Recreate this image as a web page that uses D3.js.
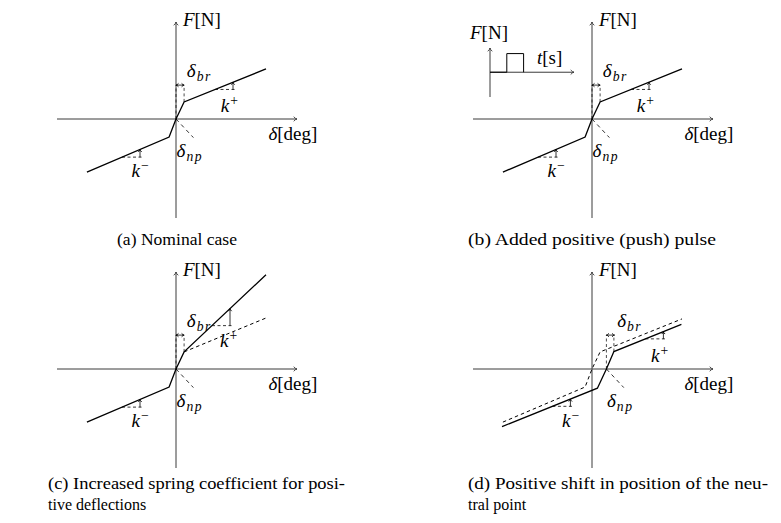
<!DOCTYPE html>
<html>
<head>
<meta charset="utf-8">
<script src="https://cdn.jsdelivr.net/npm/d3@7"></script>
<style>
  body { margin: 0; background: #fff; }
</style>
</head>
<body>
<div id="chart"></div>
<script>
// Force / deflection characteristic, in axis units (x = deflection, y = force)
const nominalCurve = [[-2.97, -1.77], [-0.23, -0.6], [0, 0], [0.27, 0.57], [3, 1.67]];
const stiffCurve = [[-2.97, -1.77], [-0.23, -0.6], [0, 0], [0.27, 0.57], [3, 3.14]];
const nominalUpper = [[0.27, 0.57], [3, 1.7]];
const shiftedCurve = [[-3, -1.92], [0.18, -0.64], [0.48, 0], [0.73, 0.58], [2.98, 1.49]];

// neutral point per panel (a..d)
const neutralPoint = [0, 0, 0, 0.48];
const breakoutWidth = 0.27;

// pulse inset of panel (b): time, force
const pulseSignal = [[0, 0], [1, 0], [1, 1], [2, 1], [2, 0]];

const captions = [
	["(a) Nominal case"],
	["(b) Added positive (push) pulse"],
	["(c) Increased spring coefficient for posi-", "tive deflections"],
	["(d) Positive shift in position of the neu-", "tral point"]
];

const width = 781;
const height = 523;
const unit = 30;
const serif = '"Liberation Serif"';

const svg = d3.select('#chart')
	.append('svg')
	.attr('width', width)
	.attr('height', height)
	.style('font-family', serif);

// small arrow tip at (x2,y2) pointing away from (x1,y1)
function arrowTip(g, x1, y1, x2, y2, size, color) {
	const a = Math.atan2(y2 - y1, x2 - x1);
	const s = size || 4;
	const p1 = [x2 - s * Math.cos(a - 0.6), y2 - s * Math.sin(a - 0.6)];
	const p2 = [x2 - s * Math.cos(a + 0.6), y2 - s * Math.sin(a + 0.6)];
	const c = [x2 - s * 0.3 * Math.cos(a), y2 - s * 0.3 * Math.sin(a)];
	g.append('path')
		.attr('d', `M${p1[0]},${p1[1]} Q${c[0]},${c[1]} ${x2},${y2} Q${c[0]},${c[1]} ${p2[0]},${p2[1]}`)
		.attr('fill', 'none')
		.attr('stroke', color || '#000')
		.attr('stroke-width', 0.9);
}

function yAt(curve, x) {
	for (let i = 0; i < curve.length - 1; i++) {
		const [x0, y0] = curve[i];
		const [x1, y1] = curve[i + 1];
		if (x >= x0 && x <= x1) return y0 + (y1 - y0) * (x - x0) / (x1 - x0);
	}
	return curve[curve.length - 1][1];
}

// label made of parts: {t, it, sub, sup}
function mathLabel(g, x, y, parts, size) {
	const fs = size || 19;
	const txt = g.append('text')
		.attr('x', x)
		.attr('y', y)
		.style('font-family', serif)
		.attr('font-size', fs);
	let shift = 0;
	parts.forEach((p) => {
		const ts = txt.append('tspan').text(p.t);
		if (p.it) ts.attr('font-style', 'italic');
		let target = 0;
		if (p.sub) { target = 4; ts.attr('font-size', fs * 0.72).attr('dx', 1).attr('letter-spacing', 1.5); }
		if (p.sup) { target = -7; ts.attr('font-size', fs * 0.72).attr('dx', 1); }
		ts.attr('dy', target - shift);
		shift = target;
	});
	return txt;
}

function drawPanel(idx, ox, oy) {
	const s = neutralPoint[idx];
	const g = svg.append('g');

	const xScale = d3.scaleLinear()
		.domain([-119 / unit, 121 / unit])
		.range([ox - 119, ox + 121]);
	const yScale = d3.scaleLinear()
		.domain([-99 / unit, 97 / unit])
		.range([oy + 99, oy - 97]);

	const line = d3.line()
		.x((d) => xScale(d[0]))
		.y((d) => yScale(d[1]));

	// axes
	const axisColor = '#3a3a3a';
	g.append('line')
		.attr('x1', xScale.range()[0]).attr('x2', xScale.range()[1])
		.attr('y1', yScale(0)).attr('y2', yScale(0))
		.attr('stroke', axisColor).attr('stroke-width', 1);
	arrowTip(g, xScale.range()[0], yScale(0), xScale.range()[1], yScale(0), 4, axisColor);
	g.append('line')
		.attr('x1', xScale(0)).attr('x2', xScale(0))
		.attr('y1', yScale.range()[0]).attr('y2', yScale.range()[1])
		.attr('stroke', axisColor).attr('stroke-width', 1);
	arrowTip(g, xScale(0), yScale.range()[0], xScale(0), yScale.range()[1], 4, axisColor);

	mathLabel(g, xScale(0.23), yScale(3.1), [{t: 'F', it: true}, {t: '[N]'}]);
	mathLabel(g, xScale(3.08), yScale(-0.7), [{t: 'δ', it: true}, {t: '[deg]'}]);

	// characteristic curves
	let solid = nominalCurve;
	if (idx === 2) solid = stiffCurve;
	if (idx === 3) solid = shiftedCurve;

	if (idx === 2) {
		g.append('path').attr('d', line(nominalUpper))
			.attr('fill', 'none').attr('stroke', '#000').attr('stroke-width', 1)
			.attr('stroke-dasharray', '3.5,3');
	}
	if (idx === 3) {
		g.append('path').attr('d', line(nominalCurve))
			.attr('fill', 'none').attr('stroke', '#000').attr('stroke-width', 1)
			.attr('stroke-dasharray', '3.5,3');
	}
	g.append('path').attr('d', line(solid))
		.attr('fill', 'none').attr('stroke', '#000').attr('stroke-width', 1.3);

	// breakout marker
	const kink = solid[3];
	const brY = 1.13;
	g.append('path')
		.attr('d', line([[s, 0], [s, brY]]) + line([[kink[0], kink[1]], [kink[0], brY]]))
		.attr('fill', 'none').attr('stroke', '#000').attr('stroke-width', 0.7)
		.attr('stroke-dasharray', '3,2.5');
	g.append('line')
		.attr('x1', xScale(s)).attr('x2', xScale(s + breakoutWidth))
		.attr('y1', yScale(brY)).attr('y2', yScale(brY))
		.attr('stroke', '#000').attr('stroke-width', 0.8);
	arrowTip(g, xScale(s + breakoutWidth), yScale(brY), xScale(s), yScale(brY), 3);
	arrowTip(g, xScale(s), yScale(brY), xScale(s + breakoutWidth), yScale(brY), 3);

	// neutral point marker
	g.append('path')
		.attr('d', line([[s, 0], [s + 0.58, -0.62]]))
		.attr('fill', 'none').attr('stroke', '#000').attr('stroke-width', 0.8)
		.attr('stroke-dasharray', '4,3.5');

	// slope triangles
	const w = 0.6;
	const kPlusStart = idx === 2 ? 1.2 : s + 1.3;
	const triangles = [kPlusStart, s - 1.8];
	triangles.forEach((x0) => {
		const y0 = yAt(solid, x0);
		const y1 = yAt(solid, x0 + w);
		g.append('line')
			.attr('x1', xScale(x0)).attr('x2', xScale(x0 + w) + 2)
			.attr('y1', yScale(y0)).attr('y2', yScale(y0))
			.attr('stroke', '#000').attr('stroke-width', 0.8)
			.attr('stroke-dasharray', '3,2.5');
		g.append('line')
			.attr('x1', xScale(x0 + w)).attr('x2', xScale(x0 + w))
			.attr('y1', yScale(y0)).attr('y2', yScale(y1))
			.attr('stroke', '#000').attr('stroke-width', 0.8);
		arrowTip(g, xScale(x0 + w), yScale(y0), xScale(x0 + w), yScale(y1), 3);
	});

	// labels
	mathLabel(g, xScale(s + 0.36), yScale(1.39), [{t: 'δ', it: true}, {t: 'br', it: true, sub: true}]);
	mathLabel(g, xScale(s + 0.02), yScale(-1.25), [{t: 'δ', it: true}, {t: 'np', it: true, sub: true}]);
	if (idx === 2) {
		mathLabel(g, xScale(1.47), yScale(0.75), [{t: 'k', it: true}, {t: '+', sup: true}]);
	} else {
		mathLabel(g, xScale(s + 1.49), yScale(0.24), [{t: 'k', it: true}, {t: '+', sup: true}]);
	}
	mathLabel(g, xScale(s - 1.48), yScale(-1.92), [{t: 'k', it: true}, {t: '−', sup: true}]);

	return g;
}

const panelA = drawPanel(0, 176, 119);
const panelB = drawPanel(1, 592, 119);
const panelC = drawPanel(2, 176, 369);
const panelD = drawPanel(3, 592, 369);

// Inset of panel (b): force pulse over time
const tScale = d3.scaleLinear().domain([0, 5]).range([490, 574]);
const fScale = d3.scaleLinear().domain([-1.33, 1.3]).range([97, 48]);
const inset = svg.append('g');
inset.append('line')
	.attr('x1', tScale(0)).attr('x2', tScale(5))
	.attr('y1', fScale(0)).attr('y2', fScale(0))
	.attr('stroke', '#3a3a3a').attr('stroke-width', 1);
arrowTip(inset, tScale(0), fScale(0), tScale(5), fScale(0), 4, '#3a3a3a');
inset.append('line')
	.attr('x1', tScale(0)).attr('x2', tScale(0))
	.attr('y1', fScale(-1.33)).attr('y2', fScale(1.3))
	.attr('stroke', '#3a3a3a').attr('stroke-width', 1);
arrowTip(inset, tScale(0), fScale(-1.33), tScale(0), fScale(1.3), 4, '#3a3a3a');
inset.append('path')
	.attr('d', d3.line().x((d) => tScale(d[0])).y((d) => fScale(d[1]))(pulseSignal))
	.attr('fill', 'none').attr('stroke', '#000').attr('stroke-width', 1);
mathLabel(inset, 470, 39, [{t: 'F', it: true}, {t: '[N]'}]);
mathLabel(inset, 537, 64, [{t: 't', it: true}, {t: '[s]'}]);

// Captions
const captionPos = [
	{x: 177, y: 245, anchor: 'middle', len: 120},
	{x: 592, y: 245, anchor: 'middle', len: 248},
	{x: 48, y: 489, anchor: 'start', len: 297},
	{x: 468, y: 489, anchor: 'start', len: 300}
];
captions.forEach((lines, i) => {
	const p = captionPos[i];
	lines.forEach((ln, j) => {
		const t = svg.append('text')
			.attr('x', p.x)
			.attr('y', p.y + j * 21)
			.attr('text-anchor', p.anchor)
			.style('font-family', serif)
			.attr('font-size', 16)
			.text(ln);
		if (j === 0) t.attr('textLength', p.len).attr('lengthAdjust', 'spacingAndGlyphs');
	});
});
</script>
</body>
</html>
